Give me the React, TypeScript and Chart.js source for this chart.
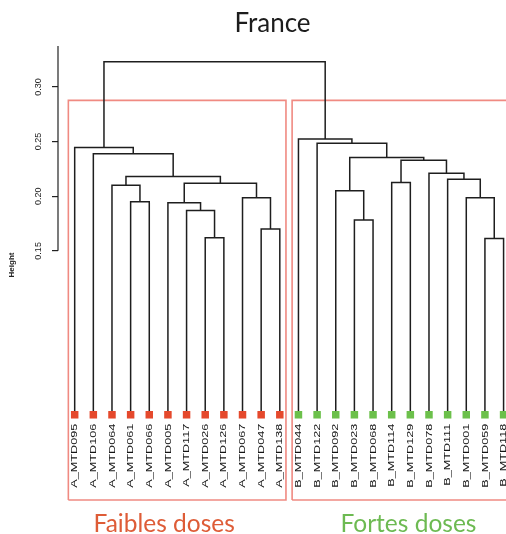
import React, { useEffect, useRef } from 'react';
import { Chart, registerables } from 'chart.js';

Chart.register(...registerables);

// Leaves in dendrogram order
const leafLabels = [
  'A_MTD095', 'A_MTD106', 'A_MTD064', 'A_MTD061', 'A_MTD066', 'A_MTD005',
  'A_MTD117', 'A_MTD026', 'A_MTD126', 'A_MTD067', 'A_MTD047', 'A_MTD138',
  'B_MTD044', 'B_MTD122', 'B_MTD092', 'B_MTD023', 'B_MTD068', 'B_MTD114',
  'B_MTD129', 'B_MTD078', 'B_MTD111', 'B_MTD001', 'B_MTD059', 'B_MTD118',
];

// hclust-style merge table: negative = leaf (1-based position in order), positive = earlier merge step
const mergeLeft = [-8, -7, -6, -11, -10, 3, -4, -3, 8, -2, -1, -23, -22, -21, -20, -18, 16, -16, -15, 19, -14, -13, 11];
const mergeRight = [-9, 1, 2, -12, 4, 5, -5, 7, 6, 9, 10, -24, 12, 13, 14, -19, 15, -17, 18, 17, 20, 21, 22];
const mergeHeight = [
  0.162, 0.187, 0.194, 0.170, 0.1987, 0.212, 0.195, 0.210, 0.218, 0.239, 0.2445,
  0.1614, 0.1987, 0.2156, 0.221, 0.2125, 0.233, 0.1783, 0.205, 0.2354, 0.2485, 0.2524,
  0.323,
];

const yTicks = [0.15, 0.2, 0.25, 0.3];
const yAxisTop = 0.3375;
const yMin = -0.078;
const xMin = -0.895;
const xMax = 23.13;

const groupNames = ['Faibles doses', 'Fortes doses'];
const groupMarkerColors = ['#E5492C', '#6CC04B'];
const groupTextColors = ['#DE5C37', '#6DBA52'];
const groupLabelAt = [4.8, 17.9];
const leafGroup = leafLabels.map((l) => (l.startsWith('A') ? 0 : 1));

const TITLE = 'France';
const Y_TITLE = 'Height';

function nodeX(n: number, cache: Map<number, number>): number {
  if (n < 0) return -n - 1;
  if (cache.has(n)) return cache.get(n)!;
  const v = (nodeX(mergeLeft[n - 1], cache) + nodeX(mergeRight[n - 1], cache)) / 2;
  cache.set(n, v);
  return v;
}
function nodeH(n: number): number {
  return n < 0 ? 0 : mergeHeight[n - 1];
}
function leavesOf(n: number): number[] {
  if (n < 0) return [-n - 1];
  return [...leavesOf(mergeLeft[n - 1]), ...leavesOf(mergeRight[n - 1])];
}

const textPlugin = {
  id: 'dendroText',
  afterDraw(chart: any) {
    const { ctx, scales, chartArea } = chart;
    const xs = scales.x;
    const ys = scales.y;
    ctx.save();
    // y axis line
    ctx.strokeStyle = '#222';
    ctx.lineWidth = 1.2;
    ctx.beginPath();
    ctx.moveTo(chartArea.left, ys.getPixelForValue(yTicks[0]));
    ctx.lineTo(chartArea.left, ys.getPixelForValue(yAxisTop));
    ctx.stroke();
    // y tick labels
    ctx.fillStyle = '#222';
    ctx.font = '9px "Liberation Sans", Arial, sans-serif';
    ctx.textAlign = 'center';
    ctx.textBaseline = 'middle';
    yTicks.forEach((v) => {
      ctx.save();
      ctx.translate(chartArea.left - 19, ys.getPixelForValue(v));
      ctx.rotate(-Math.PI / 2);
      ctx.fillText(v.toFixed(2), 0, 0);
      ctx.restore();
    });
    // y title
    ctx.save();
    ctx.font = 'bold 8px "Liberation Sans", Arial, sans-serif';
    ctx.translate(12, 265);
    ctx.rotate(-Math.PI / 2);
    ctx.fillText(Y_TITLE, 0, 0);
    ctx.restore();
    // leaf labels
    ctx.font = '9.5px "Liberation Sans", Arial, sans-serif';
    ctx.fillStyle = '#151515';
    ctx.textAlign = 'right';
    leafLabels.forEach((lab, i) => {
      ctx.save();
      ctx.translate(xs.getPixelForValue(i), ys.getPixelForValue(0) + 9);
      ctx.rotate(-Math.PI / 2);
      ctx.scale(1.33, 1);
      ctx.fillText(lab, 0, 0);
      ctx.restore();
    });
    // group labels
    ctx.textAlign = 'center';
    ctx.textBaseline = 'alphabetic';
    ctx.font = '24.5px Lato, "Open Sans", sans-serif';
    groupNames.forEach((g, k) => {
      ctx.fillStyle = groupTextColors[k];
      ctx.fillText(g, xs.getPixelForValue(groupLabelAt[k]), 532);
    });
    // title
    ctx.fillStyle = '#1c1c1c';
    ctx.font = '26px Lato, "Open Sans", sans-serif';
    ctx.fillText(TITLE, 272.5, 32);
    ctx.restore();
  },
};

export default function App() {
  const ref = useRef<HTMLCanvasElement>(null);
  useEffect(() => {
    if (!ref.current) return;
    const cache = new Map<number, number>();
    const datasets: any[] = [];

    // leaf markers
    datasets.push({
      label: 'leaves',
      data: leafLabels.map((_, i) => ({ x: i, y: 0 })),
      pointStyle: 'rect',
      pointRadius: 5.3,
      pointBackgroundColor: leafGroup.map((g) => groupMarkerColors[g]),
      pointBorderWidth: 0,
      showLine: false,
    });

    // dendrogram branches
    mergeHeight.forEach((h, k) => {
      const l = mergeLeft[k];
      const r = mergeRight[k];
      const xl = nodeX(l, cache);
      const xr = nodeX(r, cache);
      datasets.push({
        label: 'm' + (k + 1),
        data: [
          { x: xl, y: nodeH(l) },
          { x: xl, y: h },
          { x: xr, y: h },
          { x: xr, y: nodeH(r) },
        ],
        showLine: true,
        borderColor: '#1e1e1e',
        borderWidth: 1.5,
        pointRadius: 0,
        tension: 0,
      });
    });

    // cluster rectangles (k = 2)
    const root = mergeHeight.length;
    const boxTop = (mergeHeight[root - 1] + mergeHeight[root - 2]) / 2;
    [mergeLeft[root - 1], mergeRight[root - 1]].forEach((child, k) => {
      const lv = leavesOf(child);
      const a = Math.min(...lv) - 0.34;
      const b = Math.max(...lv) + 0.33;
      datasets.push({
        label: groupNames[k],
        data: [
          { x: a, y: yMin },
          { x: a, y: boxTop },
          { x: b, y: boxTop },
          { x: b, y: yMin },
          { x: a, y: yMin },
        ],
        showLine: true,
        borderColor: '#F08A82',
        borderWidth: 1.6,
        pointRadius: 0,
        clip: false,
      });
    });

    const chart = new Chart(ref.current, {
      type: 'scatter',
      data: { datasets },
      options: {
        animation: false,
        responsive: false,
        layout: { autoPadding: false, padding: { left: 52, right: 0, top: 46, bottom: 34 } },
        plugins: { legend: { display: false }, tooltip: { enabled: false }, title: { display: false } },
        scales: {
          x: { type: 'linear', min: xMin, max: xMax, display: false },
          y: {
            type: 'linear',
            min: yMin,
            max: yAxisTop,
            position: 'left',
            afterBuildTicks: (s: any) => {
              s.ticks = yTicks.map((v) => ({ value: v }));
            },
            ticks: { display: false },
            border: { display: false },
            grid: { display: true, drawOnChartArea: false, drawTicks: true, tickLength: 6, color: '#222', lineWidth: 1.2 },
          },
        },
      },
      plugins: [textPlugin],
    });
    return () => chart.destroy();
  }, []);
  return (
    <div style={{ position: 'fixed', left: 0, top: 0, width: 506, height: 534, background: '#fff' }}>
      <canvas ref={ref} width={506} height={534} />
    </div>
  );
}
